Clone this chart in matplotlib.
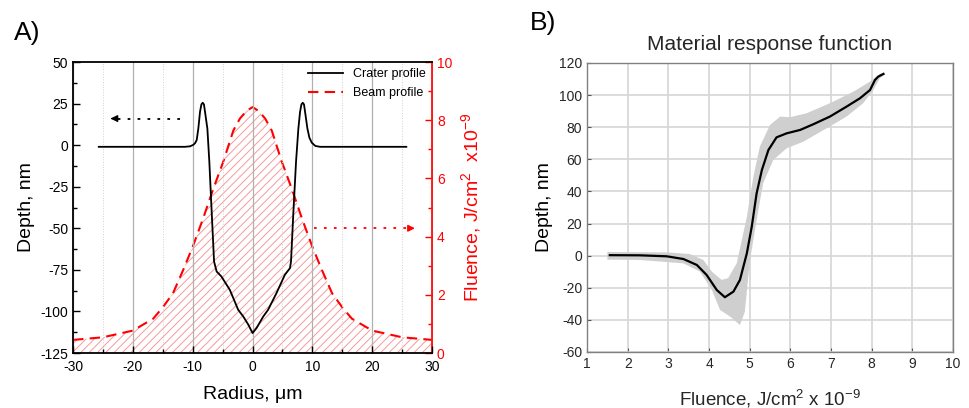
import numpy as np
import matplotlib
matplotlib.use('Agg')
import matplotlib.pyplot as plt
from matplotlib.ticker import MultipleLocator

plt.rcParams['font.family'] = ['Liberation Sans', 'DejaVu Sans']
plt.rcParams['mathtext.default'] = 'regular'
plt.rcParams['axes.unicode_minus'] = False
plt.rcParams['hatch.linewidth'] = 0.7

# Panel A: crater profile (depth, nm) vs radius (um)
crater_r = [-25.7, -11.3, -10.44, -9.9, -9.6, -9.33, -9.06, -8.78, -8.55, -8.33, -8.12, -7.94,
            -7.55, -7.22, -6.83, -6.43, -6.0, -5.2, -3.8, -2.4, -1.56, -0.7, 0.0, 0.67, 1.8,
            2.6, 4.0, 5.4, 6.25, 6.43, 6.83, 7.27, 7.66, 7.94, 8.17, 8.39, 8.6, 8.78, 9.17,
            9.5, 9.9, 10.5, 11.3, 25.7]
crater_d = [-1, -1, -0.7, 0.2, 1.2, 3.1, 10, 20, 24.5, 25.5, 24.5, 20,
            10, -10, -40, -70, -76, -79, -87, -99, -103, -108, -113, -110, -103,
            -99, -89, -78, -74, -70, -40, -10, 10, 20, 24.5, 25.5, 24.5, 20, 10,
            4.5, 1.5, -0.5, -1, -1]

# beam profile (fluence, J/cm2 x1e-9) vs radius
beam_r = [-30, -25, -20, -16.6, -15, -13.3, -11.6, -10, -8.3, -6.6, -4.9, -3.2, -2.1, -1, 0,
          1, 2.1, 3.2, 4.9, 6.6, 8.3, 10, 11.6, 13.3, 15, 16.6, 20, 25, 30]
beam_f = [0.45, 0.54, 0.77, 1.18, 1.57, 2.05, 2.85, 3.65, 4.6, 5.62, 6.57, 7.65, 8.06, 8.32, 8.45,
          8.32, 8.06, 7.65, 6.57, 5.62, 4.6, 3.65, 2.85, 2.05, 1.57, 1.18, 0.77, 0.54, 0.45]

# Panel B: material response function
resp_x = [1.56, 2.3, 2.96, 3.37, 3.7, 3.94, 4.19, 4.39, 4.6, 4.76, 4.93, 5.05, 5.17,
          5.3, 5.46, 5.66, 5.91, 6.24, 6.56, 6.97, 7.38, 7.71, 7.96, 8.08, 8.16, 8.29]
resp_y = [0.3, 0.2, -0.4, -2.1, -5.8, -12, -21.4, -25.9, -22.4, -15.1, 1.5, 18, 38.8,
          53.4, 65.8, 73.7, 76.2, 78.3, 81.8, 86.6, 92.8, 98, 103.2, 109.4, 111.5, 113.2]

band_hi_x = [1.5, 3.0, 3.53, 3.86, 4.07, 4.31, 4.47, 4.68, 4.93, 5.09, 5.25, 5.5, 5.75,
             5.99, 6.4, 6.97, 7.55, 7.96, 8.2, 8.3]
band_hi = [2.3, 2.0, 1.0, -2.7, -10, -15.1, -14, -4.8, 24, 49.2, 67.9, 81.4, 86.6,
           86.2, 88.7, 94.9, 102.1, 108.4, 113.2, 114]
band_lo_x = [1.5, 2.3, 3.37, 3.78, 4.07, 4.27, 4.52, 4.76, 4.88, 5.0, 5.17, 5.33, 5.58,
             5.91, 6.32, 6.89, 7.38, 7.79, 8.04, 8.2, 8.3]
band_lo = [-2.5, -2.7, -4.8, -10, -21.4, -33.8, -38, -43.2, -35, -4, 22.2, 45.1, 59.6,
           66.9, 71, 79.3, 86.6, 94.9, 103.2, 110.5, 112.5]

fig = plt.figure(figsize=(9.7, 4.08), dpi=100)

# ---------------- Panel A
ax1 = fig.add_axes([0.0753, 0.1348, 0.3701, 0.7132])
ax2 = ax1.twinx()
ax1.set_zorder(ax2.get_zorder() + 1)
ax1.patch.set_visible(False)

ax2.fill_between(beam_r, 0, beam_f, facecolor='none', edgecolor='#f49a9a', hatch='////', linewidth=0)
lb, = ax2.plot(beam_r, beam_f, color='red', lw=1.5, ls=(0, (5, 3)), label='Beam profile')
lc, = ax1.plot(crater_r, crater_d, color='black', lw=1.3, label='Crater profile')

ax1.set_xlim(-30, 30)
ax1.set_ylim(-125, 50)
ax2.set_ylim(0, 10)
ax1.xaxis.set_major_locator(MultipleLocator(10))
ax1.xaxis.set_minor_locator(MultipleLocator(5))
ax1.yaxis.set_major_locator(MultipleLocator(25))
ax1.yaxis.set_minor_locator(MultipleLocator(12.5))
ax2.yaxis.set_major_locator(MultipleLocator(2))
ax2.yaxis.set_minor_locator(MultipleLocator(1))

ax1.grid(True, axis='x', which='major', color='#b0b0b0', lw=0.9)
ax1.grid(True, axis='x', which='minor', color='#d0d0d0', lw=0.7, ls=':')
ax1.tick_params(which='both', direction='in', labelsize=10, top=False)
ax1.tick_params(axis='x', pad=5)
ax1.tick_params(which='major', length=5, width=1)
ax1.tick_params(which='minor', length=3, width=1)
ax2.tick_params(which='both', direction='in', colors='red', labelsize=10)
ax2.tick_params(which='major', length=5, width=1)
ax2.tick_params(which='minor', length=3, width=1)
for s in ['left', 'bottom', 'top']:
    ax1.spines[s].set_linewidth(1.3)
ax1.spines['right'].set_visible(False)
ax2.spines['right'].set_color('red')
ax2.spines['right'].set_linewidth(1.3)
for s in ['left', 'bottom', 'top']:
    ax2.spines[s].set_visible(False)

ax1.set_xlabel('Radius, μm', fontsize=14, labelpad=9)
ax1.set_ylabel('Depth, nm', fontsize=14, labelpad=4)
ax2.set_ylabel('Fluence, J/cm$^2$  x10$^{-9}$', fontsize=14, color='red', labelpad=5)

# direction arrows
ax1.plot([-12.2, -23], [16, 16], color='black', lw=1.3, ls=(0, (1.5, 4)))
ax1.annotate('', xy=(-24.2, 16), xytext=(-22.8, 16),
             arrowprops=dict(arrowstyle='-|>', color='black', lw=1, mutation_scale=10))
ax1.plot([10.2, 26.2], [-50, -50], color='red', lw=1.3, ls=(0, (1.5, 4)))
ax1.annotate('', xy=(27.6, -50), xytext=(26.0, -50),
             arrowprops=dict(arrowstyle='-|>', color='red', lw=1, mutation_scale=10))

ax1.legend(handles=[lc, lb], loc='upper right', frameon=False, fontsize=9,
           handlelength=2.8, borderaxespad=0.1, labelspacing=0.55, handletextpad=0.8)

fig.text(0.014, 0.902, 'A)', fontsize=19)

# ---------------- Panel B
ax3 = fig.add_axes([0.6052, 0.1373, 0.3773, 0.7083])
ax3.fill(band_hi_x + band_lo_x[::-1], band_hi + band_lo[::-1], color='#cfcfcf', lw=0, zorder=2)
ax3.plot(resp_x, resp_y, color='black', lw=1.6, zorder=3)
ax3.set_xlim(1, 10)
ax3.set_ylim(-60, 120)
ax3.xaxis.set_major_locator(MultipleLocator(1))
ax3.yaxis.set_major_locator(MultipleLocator(20))
ax3.grid(True, color='#d6d6d6', lw=1.2, zorder=0)
ax3.set_axisbelow(True)
ax3.tick_params(direction='in', length=3, color='#555555', labelcolor='#262626', labelsize=10)
for s in ax3.spines.values():
    s.set_color('#808080')
    s.set_linewidth(1)
ax3.set_title('Material response function', fontsize=15, color='#262626', pad=9)
ax3.set_xlabel('Fluence, J/cm$^2$ x 10$^{-9}$', fontsize=13.5, color='#262626', labelpad=12)
ax3.set_ylabel('Depth, nm', fontsize=14, color='black', labelpad=4)

fig.text(0.546, 0.926, 'B)', fontsize=19)

fig.savefig('out.png', dpi=100)
